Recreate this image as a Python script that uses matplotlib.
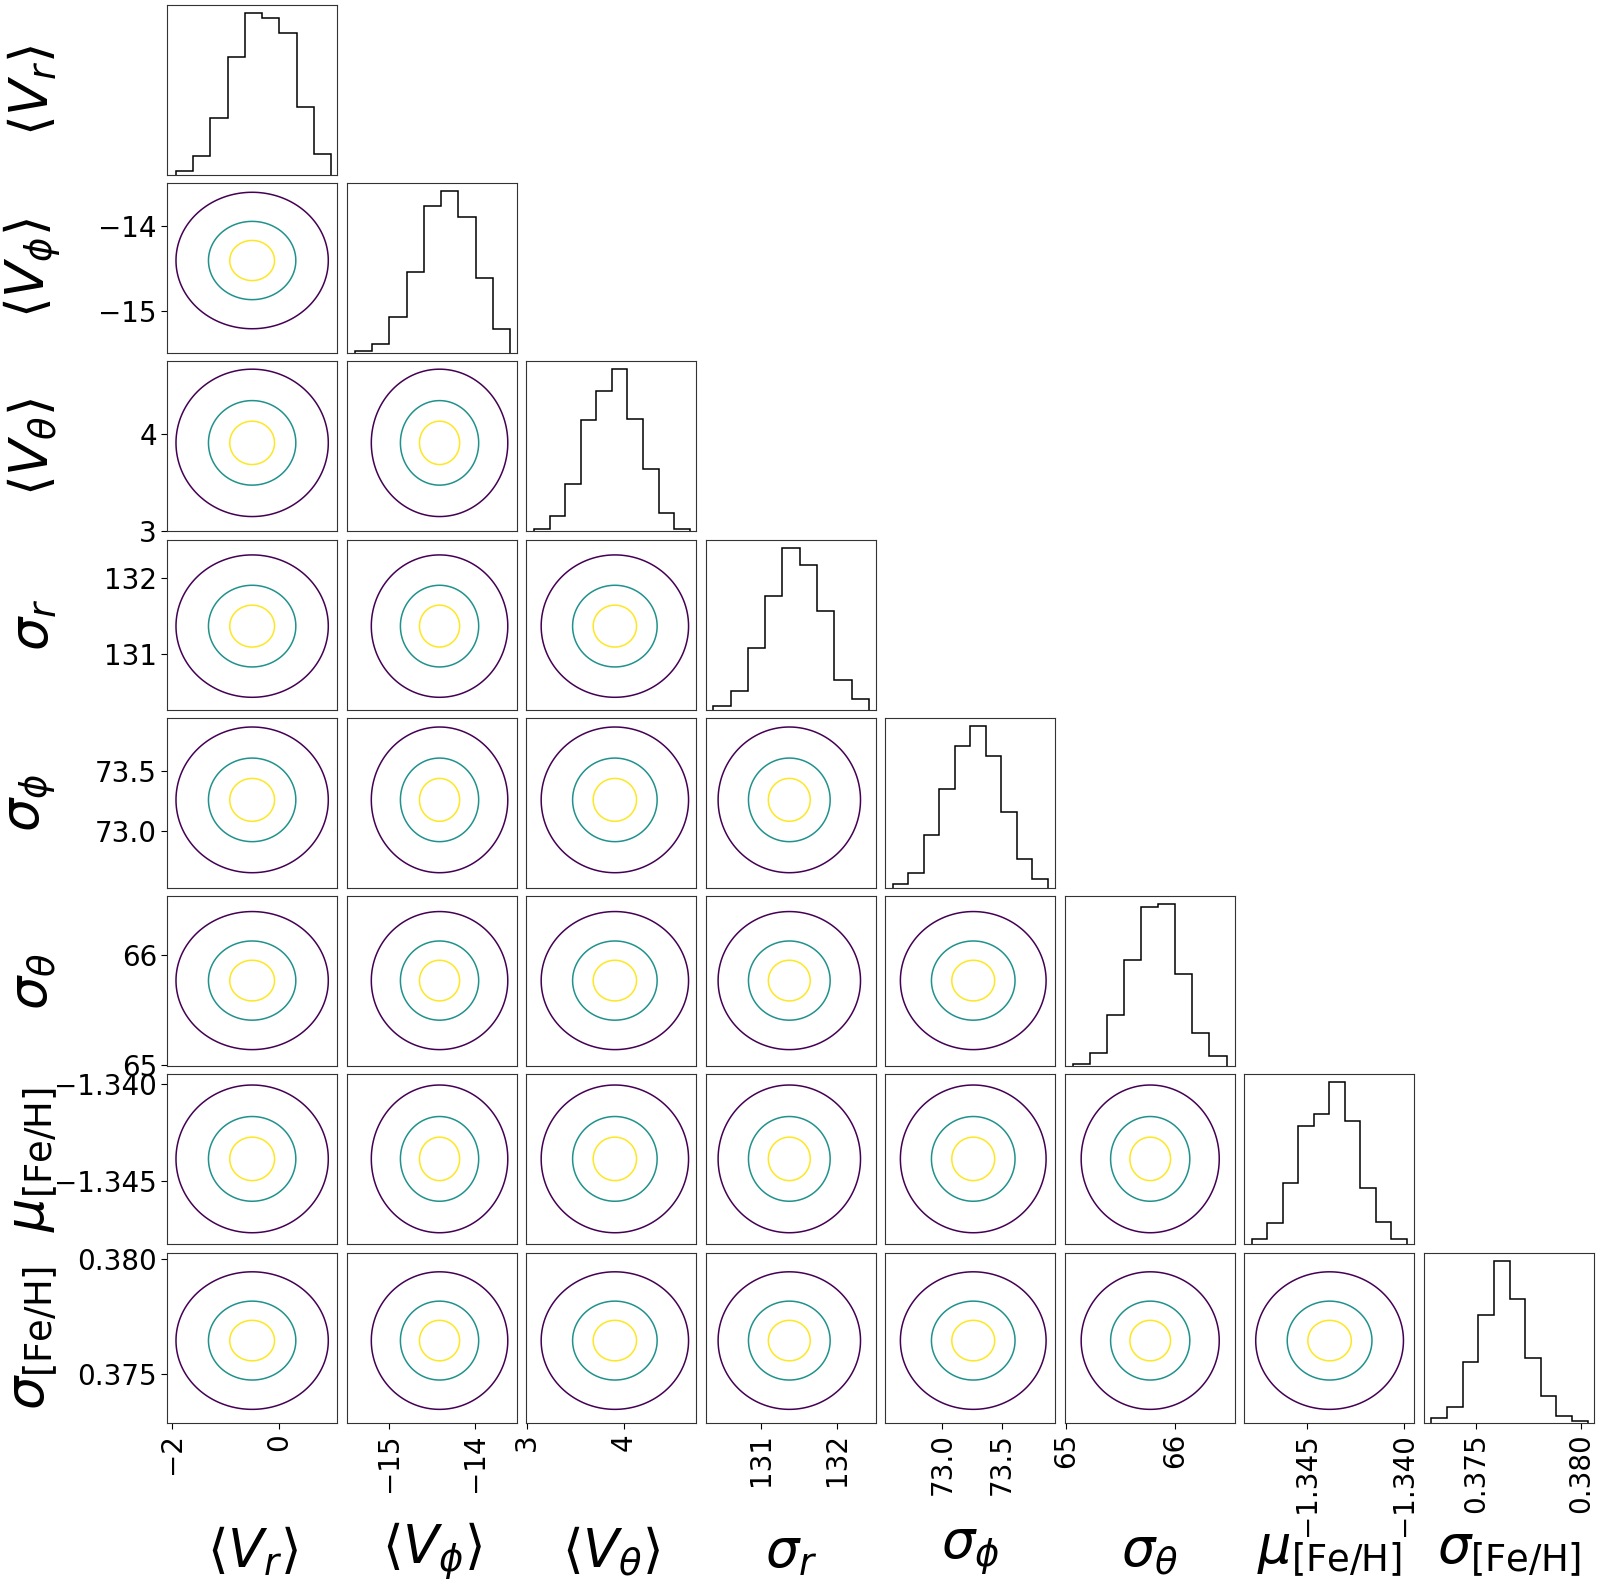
import numpy as np
import matplotlib
matplotlib.use("Agg")
import matplotlib.pyplot as plt

# ---------------- data ----------------
labels = [r'$\langle V_r \rangle$', r'$\langle V_\phi \rangle$', r'$\langle V_\theta \rangle$',
          r'$\sigma_r$', r'$\sigma_\phi$', r'$\sigma_\theta$',
          r'$\mu_{\rm [Fe/H]}$', r'$\sigma_{\rm [Fe/H]}$']

# axis ranges (x of each column / y of each row)
x_lo = [-2.09, -15.496, 2.990, 130.272, 72.520, 64.99, -1.34826, 0.3725]
x_hi = [1.10, -13.504, 4.756, 132.506, 73.949, 66.54, -1.33949, 0.3806]
y_lo = [-2.09, -15.496, 2.990, 130.272, 72.520, 64.99, -1.34826, 0.37288]
y_hi = [1.10, -13.504, 4.756, 132.506, 73.949, 66.54, -1.33949, 0.38028]

# 1-D histograms: first edge, last edge, counts per bin
hist_lo = [-1.934, -15.402, 3.070, 130.372, 72.584, 65.062, -1.34787, 0.37288]
hist_hi = [0.982, -13.582, 4.687, 132.414, 73.885, 66.466, -1.33988, 0.38032]
hist_v_r = [12, 57, 169, 352, 483, 468, 423, 202, 63]
hist_v_phi = [8, 27, 108, 245, 442, 487, 410, 225, 73]
hist_v_theta = [7, 46, 143, 335, 420, 485, 337, 186, 56, 7]
hist_sig_r = [12, 57, 186, 340, 485, 432, 296, 90, 32]
hist_sig_phi = [11, 44, 159, 295, 424, 485, 395, 227, 87, 27]
hist_sig_theta = [7, 38, 154, 319, 478, 485, 275, 100, 30]
hist_mu_feh = [16, 65, 182, 354, 390, 484, 368, 170, 67, 16]
hist_sig_feh = [15, 48, 180, 320, 483, 368, 194, 80, 21, 4]
hist_counts = [hist_v_r, hist_v_phi, hist_v_theta, hist_sig_r,
               hist_sig_phi, hist_sig_theta, hist_mu_feh, hist_sig_feh]

centres = [-0.50, -14.41, 3.91, 131.37, 73.26, 65.77, -1.34385, 0.37645]
sigmas = [0.42, 0.235, 0.225, 0.275, 0.18, 0.185, 0.00112, 0.00088]
contour_sigma_levels = [3.4, 1.95, 1.0]
contour_colors = ['#440154', '#21918c', '#fde725']

# tick positions and labels
x_ticks = [[-2, 0], [-15, -14], [3, 4], [131, 132], [73.0, 73.5], [65, 66],
           [-1.345, -1.340], [0.375, 0.380]]
x_ticklabels = [['\u22122', '0'], ['\u221215', '\u221214'], ['3', '4'], ['131', '132'],
                ['73.0', '73.5'], ['65', '66'], ['\u22121.345', '\u22121.340'],
                ['0.375', '0.380']]
y_ticks = [[], [-14, -15], [4, 3], [132, 131], [73.5, 73.0], [66, 65],
           [-1.340, -1.345], [0.380, 0.375]]
y_ticklabels = [[], ['\u221214', '\u221215'], ['4', '3'], ['132', '131'],
                ['73.5', '73.0'], ['66', '65'], ['\u22121.340', '\u22121.345'],
                ['0.380', '0.375']]

# ---------------- plot ----------------
n = len(labels)
fig, axes = plt.subplots(n, n, figsize=(16, 15.89), dpi=100)
fig.subplots_adjust(left=0.1046, right=0.996, top=0.9969, bottom=0.1047,
                    wspace=0.055, hspace=0.048)

TICK_FS = 20
LABEL_FS = 38

for i in range(n):
    for j in range(n):
        ax = axes[i, j]
        if j > i:
            ax.set_visible(False)
            continue
        for sp in ax.spines.values():
            sp.set_linewidth(0.8)
            sp.set_color('#333333')
        if i == j:
            counts = np.array(hist_counts[i], dtype=float)
            edges = np.linspace(hist_lo[i], hist_hi[i], len(counts) + 1)
            ax.hist(edges[:-1], bins=edges, weights=counts, histtype='step',
                    color='k', lw=1.1)
            ax.set_xlim(x_lo[i], x_hi[i])
            ax.set_ylim(0, 1.05 * counts.max())
            ax.set_yticks([])
        else:
            gx = np.linspace(x_lo[j], x_hi[j], 300)
            gy = np.linspace(y_lo[i], y_hi[i], 300)
            X, Y = np.meshgrid(gx, gy)
            Z = np.exp(-0.5 * ((X - centres[j]) / sigmas[j]) ** 2
                       - 0.5 * ((Y - centres[i]) / sigmas[i]) ** 2)
            levels = [np.exp(-0.5 * r ** 2) for r in contour_sigma_levels]
            ax.contour(X, Y, Z, levels=levels, colors=contour_colors, linewidths=1.1)
            ax.set_xlim(x_lo[j], x_hi[j])
            ax.set_ylim(y_lo[i], y_hi[i])
            if j == 0:
                ax.set_yticks(y_ticks[i])
                ax.set_yticklabels(y_ticklabels[i], fontsize=TICK_FS)
                ax.tick_params(axis='y', length=4, width=0.8)
            else:
                ax.set_yticks([])
        if i == n - 1:
            ax.set_xticks(x_ticks[j])
            ax.set_xticklabels(x_ticklabels[j], fontsize=TICK_FS, rotation=90)
            ax.tick_params(axis='x', length=4, width=0.8)
            ax.set_xlabel(labels[j], fontsize=LABEL_FS)
            ax.xaxis.set_label_coords(0.5, -0.76)
            ax.xaxis.label.set_va('center')
        else:
            ax.set_xticks([])
        if j == 0:
            ax.set_ylabel(labels[i], fontsize=LABEL_FS)
            ax.yaxis.set_label_coords(-0.79, 0.5)
            ax.yaxis.label.set_va('center')

fig.savefig('out.png', dpi=100)
